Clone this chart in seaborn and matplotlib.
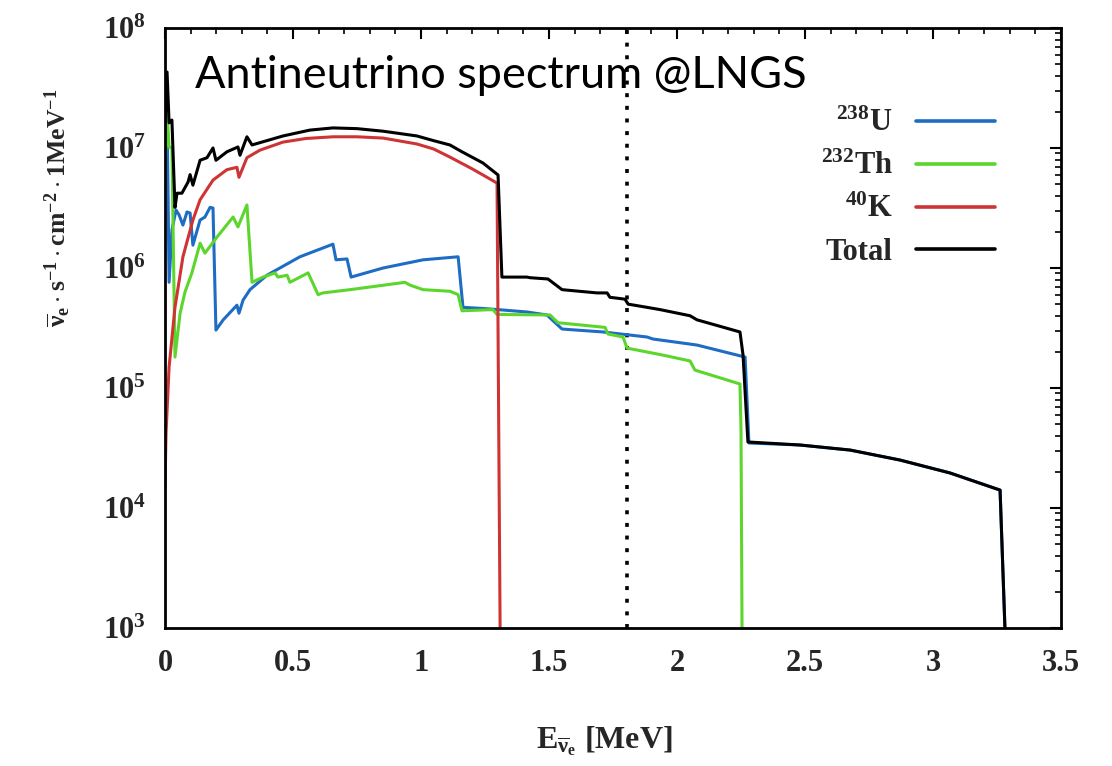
import numpy as np
import pandas as pd
import matplotlib
matplotlib.use("Agg")
import matplotlib.pyplot as plt
import seaborn as sns
from matplotlib.ticker import MultipleLocator, LogLocator, NullFormatter

# ---------------- data ----------------
U_E = [0.0, 0.004, 0.008, 0.016, 0.027, 0.043, 0.055, 0.070, 0.086, 0.098, 0.109,
       0.137, 0.156, 0.176, 0.1875, 0.199, 0.227, 0.281, 0.289, 0.305, 0.332, 0.398,
       0.527, 0.656, 0.668, 0.711, 0.727, 0.852, 1.008, 1.145, 1.164, 1.242, 1.301,
       1.414, 1.492, 1.512, 1.551, 1.711, 1.883, 1.906, 2.078, 2.266, 2.281, 2.480,
       2.676, 2.871, 3.066, 3.262, 3.281]
U_F = [6.6e6, 1.88e7, 2.0e7, 7.6e5, 2.07e6, 3.04e6, 2.77e6, 2.28e6, 2.93e6, 2.87e6, 1.55e6,
       2.51e6, 2.66e6, 3.2e6, 3.16e6, 3.04e5, 3.69e5, 4.9e5, 4.2e5, 5.4e5, 6.6e5, 8.7e5,
       1.24e6, 1.58e6, 1.17e6, 1.19e6, 8.4e5, 1.0e6, 1.17e6, 1.24e6, 4.7e5, 4.6e5, 4.5e5,
       4.3e5, 4.06e5, 3.7e5, 3.1e5, 2.93e5, 2.66e5, 2.56e5, 2.28e5, 1.81e5, 3.48e4, 3.35e4,
       3.04e4, 2.51e4, 1.96e4, 1.41e4, 1.0e3]

TH_E = [0.0, 0.008, 0.016, 0.027, 0.039, 0.059, 0.078, 0.105, 0.137, 0.156, 0.203,
        0.266, 0.285, 0.320, 0.340, 0.383, 0.430, 0.441, 0.477, 0.488, 0.559, 0.598,
        0.617, 0.723, 0.918, 0.9375, 0.957, 1.008, 1.113, 1.145, 1.160, 1.281, 1.297,
        1.504, 1.535, 1.719, 1.730, 1.789, 1.805, 1.945, 2.051, 2.070, 2.246, 2.250, 2.254]
TH_F = [6.6e6, 1.96e7, 1.02e7, 1.0e7, 1.81e5, 4.2e5, 6.3e5, 9.1e5, 1.61e6, 1.33e6, 1.81e6,
        2.66e6, 2.2e6, 3.35e6, 7.6e5, 8.4e5, 9.1e5, 8.4e5, 8.7e5, 7.6e5, 9.1e5, 6.0e5,
        6.2e5, 6.6e5, 7.5e5, 7.6e5, 7.2e5, 6.6e5, 6.4e5, 6.0e5, 4.4e5, 4.5e5, 4.1e5,
        4.06e5, 3.5e5, 3.2e5, 2.82e5, 2.66e5, 2.15e5, 1.88e5, 1.68e5, 1.41e5, 1.08e5, 4.5e4, 1.0e3]

K_E = [0.0, 0.004, 0.016, 0.039, 0.070, 0.109, 0.137, 0.1875, 0.242, 0.281, 0.289,
       0.320, 0.371, 0.461, 0.55, 0.656, 0.75, 0.852, 0.984, 1.05, 1.113, 1.20, 1.242,
       1.297, 1.309]
K_F = [1.5e4, 4.2e4, 1.5e5, 4.7e5, 1.24e6, 2.51e6, 3.7e6, 5.4e6, 6.6e6, 6.9e6, 5.7e6,
       8.3e6, 9.6e6, 1.12e7, 1.2e7, 1.24e7, 1.24e7, 1.21e7, 1.08e7, 9.8e6, 8.4e6, 6.7e6,
       5.96e6, 5.1e6, 1.0e3]

TOT_E = [0.0, 0.008, 0.016, 0.027, 0.039, 0.047, 0.066, 0.090, 0.098, 0.109, 0.137,
         0.164, 0.1875, 0.199, 0.242, 0.285, 0.293, 0.320, 0.340, 0.461, 0.566, 0.656,
         0.75, 0.852, 0.984, 1.05, 1.113, 1.160, 1.242, 1.301, 1.316, 1.414, 1.426, 1.496,
         1.551, 1.6875, 1.727, 1.738, 1.797, 1.809, 1.883, 1.934, 2.051, 2.078, 2.246,
         2.258, 2.277, 2.480, 2.676, 2.871, 3.066, 3.262, 3.281]
TOT_F = [1.5e7, 4.3e7, 1.62e7, 1.71e7, 3.2e6, 4.2e6, 4.2e6, 5.2e6, 6.0e6, 4.9e6, 7.9e6,
         8.3e6, 1.0e7, 7.9e6, 9.3e6, 1.02e7, 8.7e6, 1.24e7, 1.06e7, 1.26e7, 1.41e7, 1.47e7,
         1.45e7, 1.38e7, 1.26e7, 1.15e7, 1.06e7, 9.3e6, 7.5e6, 5.96e6, 8.4e5, 8.4e5, 8.3e5,
         8.1e5, 6.6e5, 6.2e5, 6.2e5, 5.7e5, 5.5e5, 5.0e5, 4.7e5, 4.5e5, 4.0e5, 3.7e5,
         2.93e5, 1.88e5, 3.55e4, 3.35e4, 3.04e4, 2.51e4, 1.96e4, 1.41e4, 1.0e3]

THRESHOLD = 1.806

SERIES = [r"$^{238}$U", r"$^{232}$Th", r"$^{40}$K", "Total"]
COLORS = ["#1e6cc4", "#5cd62c", "#cf3434", "#000000"]

X_TICKS = [0, 0.5, 1, 1.5, 2, 2.5, 3, 3.5]
X_TICK_LABELS = ["0", "0.5", "1", "1.5", "2", "2.5", "3", "3.5"]
Y_TICKS = [1e3, 1e4, 1e5, 1e6, 1e7, 1e8]
Y_TICK_LABELS = [r"$10^{3}$", r"$10^{4}$", r"$10^{5}$", r"$10^{6}$", r"$10^{7}$", r"$10^{8}$"]

TITLE = "Antineutrino spectrum @LNGS"
X_LABEL = r"$E_{\overline{\nu}_e}$ [MeV]"
Y_LABEL = r"$\overline{\nu}_e \cdot s^{-1} \cdot cm^{-2} \cdot 1MeV^{-1}$"

# ---------------- style ----------------
sns.set_theme(style="white")
plt.rcParams["font.family"] = ["Liberation Serif", "DejaVu Serif"]
plt.rcParams["font.weight"] = "bold"
plt.rcParams["mathtext.fontset"] = "custom"
plt.rcParams["mathtext.rm"] = "Liberation Serif:bold"
plt.rcParams["mathtext.it"] = "Liberation Serif:bold"
plt.rcParams["mathtext.bf"] = "Liberation Serif:bold"
plt.rcParams["mathtext.default"] = "rm"

frames = []
for name, e, f in [(SERIES[0], U_E, U_F), (SERIES[1], TH_E, TH_F),
                   (SERIES[2], K_E, K_F), (SERIES[3], TOT_E, TOT_F)]:
    frames.append(pd.DataFrame({"E": e, "flux": f, "src": name}))
df = pd.concat(frames, ignore_index=True)

fig = plt.figure(figsize=(11.12, 7.66), dpi=100)
ax = fig.add_axes([165 / 1112, 1 - 628 / 766, 896 / 1112, 600 / 766])

for name, col in zip(SERIES, COLORS):
    sub = df[df["src"] == name]
    sns.lineplot(data=sub, x="E", y="flux", color=col, lw=2.2, sort=False,
                 estimator=None, ax=ax, label=name)

ax.axvline(THRESHOLD, color="black", lw=2.6, ls=(0, (1.1, 2.4)), zorder=1)

ax.set_yscale("log")
ax.set_xlim(0, 3.5)
ax.set_ylim(1e3, 1e8)

ax.set_xticks(X_TICKS)
ax.set_xticklabels(X_TICK_LABELS)
ax.xaxis.set_minor_locator(MultipleLocator(0.1))
ax.set_yticks(Y_TICKS)
ax.set_yticklabels(Y_TICK_LABELS)
ax.yaxis.set_minor_locator(LogLocator(base=10, subs=np.arange(2, 10)))
ax.yaxis.set_minor_formatter(NullFormatter())

ax.tick_params(which="both", direction="in", top=True, right=True, color="black")
ax.tick_params(which="major", length=8, width=1.5)
ax.tick_params(which="minor", length=4, width=1.2)
ax.tick_params(axis="x", which="major", labelsize=22, pad=15)
ax.tick_params(axis="y", which="major", labelsize=22, pad=14)
for sp in ax.spines.values():
    sp.set_color("black")
    sp.set_linewidth(2.0)

ax.set_xlabel(X_LABEL, fontsize=23, fontweight="bold")
ax.set_ylabel(Y_LABEL, fontsize=18.5, fontweight="bold")
ax.xaxis.set_label_coords(0.49, -0.16)
ax.yaxis.set_label_coords(-0.103, 0.70)

ax.text(0.033, 0.92, TITLE, transform=ax.transAxes, fontsize=32.5,
        family=["Lato", "DejaVu Sans"], fontweight="normal", color="black", va="center")

leg = ax.legend(loc="upper right", bbox_to_anchor=(0.94, 0.885), frameon=False,
                markerfirst=False, fontsize=22, handlelength=2.6, handletextpad=0.75,
                labelspacing=0.45, borderaxespad=0)
for t in leg.get_texts():
    t.set_fontweight("bold")
for h in leg.get_lines():
    h.set_linewidth(2.6)

fig.savefig("out.png", dpi=100)
